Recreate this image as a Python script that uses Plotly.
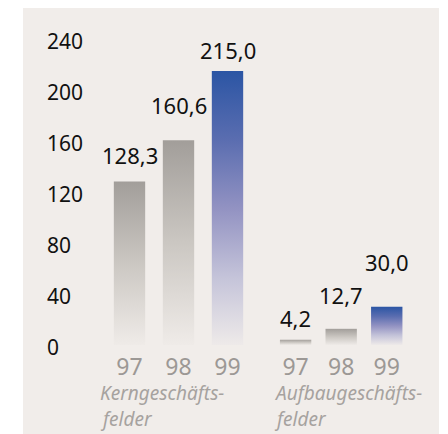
import plotly.graph_objects as go

# ---- data ----
years = ["97", "98", "99"]
kern_values = [128.3, 160.6, 215.0]
aufbau_values = [4.2, 12.7, 30.0]
kern_labels = ["128,3", "160,6", "215,0"]
aufbau_labels = ["4,2", "12,7", "30,0"]
group_line1 = ["Kerngeschäfts-", "Aufbaugeschäfts-"]
group_line2 = ["felder", "felder"]
y_ticks = [0, 40, 80, 120, 160, 200, 240]

# ---- layout constants (page body adds an 8px offset) ----
W, H = 440, 426
ML, MR, MT, MB = 36, 9, 2, 89
PX_PER_UNIT = 49.0          # x-unit width in pixels
X0_PX = 121.5               # pixel of x = 0
kern_pos = [0.0, 1.0, 2.0]
aufbau_pos = [3.39, 4.32, 5.25]
half_w = 0.32
label_shift = [26, 35, 21, 22, 34, 45]
x_range = [(ML - X0_PX) / PX_PER_UNIT, (W - MR - X0_PX) / PX_PER_UNIT]
y_range = [0, (H - MT - MB) / 1.275]

BG = "#f1edea"
grey_scale = [[0, "#efebe8"], [0.5, "#cbc7c2"], [1, "#a29e9a"]]
blue_scale = [[0, "#eeeae9"], [0.25, "#c4c3d9"], [0.5, "#9292c2"], [0.75, "#5a6db0"], [1, "#2b55a4"]]
FONT = "Noto Sans"

fig = go.Figure()

values = kern_values + aufbau_values
positions = kern_pos + aufbau_pos
labels = kern_labels + aufbau_labels
scales = [grey_scale, grey_scale, blue_scale, grey_scale, grey_scale, blue_scale]

for v, c, sc in zip(values, positions, scales):
    fig.add_trace(go.Scatter(
        x=[c - half_w, c - half_w, c + half_w, c + half_w, c - half_w],
        y=[0, v, v, 0, 0],
        mode="lines", fill="toself", line=dict(width=0),
        fillgradient=dict(type="vertical", colorscale=sc),
        hoverinfo="skip", showlegend=False,
    ))

for v, c, t, s in zip(values, positions, labels, label_shift):
    fig.add_annotation(x=c, y=v, text=t, showarrow=False, xanchor="center",
                       yanchor="middle", yshift=s,
                       font=dict(family=FONT, size=22, color="#111111"))

group_left = [-0.63, 2.93]
for gx, l1, l2 in zip(group_left, group_line1, group_line2):
    fig.add_annotation(x=gx, y=0, text=f"<i>{l1}</i>", showarrow=False,
                       xanchor="left", yanchor="middle", yshift=-48,
                       borderpad=0,
                       font=dict(family=FONT, size=19, color="#a6a29f"))
    fig.add_annotation(x=gx, y=0, text=f"<i>{l2}</i>", showarrow=False,
                       xanchor="left", yanchor="middle", yshift=-74,
                       borderpad=0,
                       font=dict(family=FONT, size=19, color="#a6a29f"))

PH = H - MT - MB
PW = W - ML - MR
fig.add_shape(type="rect", xref="paper", yref="paper",
              x0=(15 - ML) / PW, x1=(431 - ML) / PW,
              y0=(-MB - 2) / PH, y1=(H - MB) / PH,
              fillcolor=BG, line=dict(width=0), layer="below")

fig.update_layout(
    width=W, height=H,
    margin=dict(l=ML, r=MR, t=MT, b=MB),
    paper_bgcolor="white", plot_bgcolor="rgba(0,0,0,0)",
    showlegend=False,
    xaxis=dict(range=x_range, showgrid=False, zeroline=False, showline=False,
               tickmode="array", tickvals=positions, ticktext=years + years,
               ticks="", ticklabelstandoff=6,
               tickfont=dict(family=FONT, size=23, color="#9c9895"),
               fixedrange=True),
    yaxis=dict(range=y_range, showgrid=False, zeroline=False, showline=False,
               tickmode="array", tickvals=y_ticks, ticks="",
               ticklabelposition="inside", ticklabeloverflow="allow",
               ticklabelshift=3,
               tickfont=dict(family=FONT, size=21, color="#111111"),
               fixedrange=True),
)

fig.write_html("out.html")
